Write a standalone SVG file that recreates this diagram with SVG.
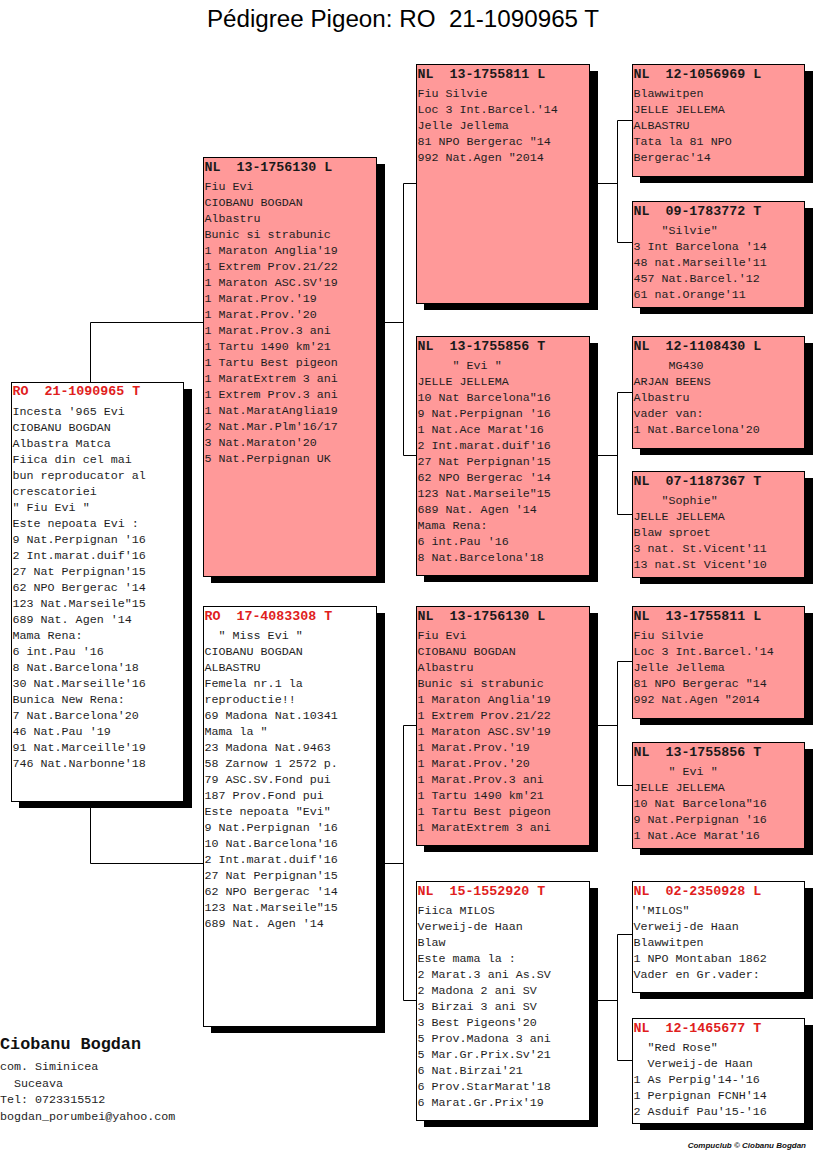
<svg xmlns="http://www.w3.org/2000/svg" width="816" height="1172" viewBox="0 0 816 1172" xml:space="preserve">
<style>
.sh{fill:#000}
.pk{fill:#ff9999;stroke:#000;stroke-width:1}
.wt{fill:#fff;stroke:#000;stroke-width:1}
.hd{font-family:"Liberation Mono",monospace;font-weight:bold;font-size:13.3px;white-space:pre}
.hr{fill:#e0201c}
.hb{fill:#1a1a1a}
.tx{font-family:"Liberation Mono",monospace;font-size:11.7px;fill:#1e1e1e;white-space:pre}
.ln{stroke:#000;stroke-width:1;fill:none}
.title{font-family:"Liberation Sans",Arial,sans-serif;font-size:24.2px;fill:#000;white-space:pre}
.ft{font-family:"Liberation Mono",monospace;font-size:11.7px;fill:#1e1e1e;white-space:pre}
.fb{font-family:"Liberation Mono",monospace;font-weight:bold;font-size:16.8px;fill:#111}
.cr{font-family:"Liberation Sans",Arial,sans-serif;font-weight:bold;font-style:italic;font-size:8px;fill:#111}
</style>
<rect width="816" height="1172" fill="#fff"/>
<text class="title" x="403" y="27" text-anchor="middle">Pédigree Pigeon: RO  21-1090965 T</text>

<g id="connectors">
<path class="ln" d="M90.5,322.5 V863.5 M90.5,322.5 H403.5 M90.5,863.5 H403.5"/>
<path class="ln" d="M403.5,183.5 V455.5 M403.5,183.5 H416 M403.5,455.5 H416"/>
<path class="ln" d="M403.5,725.5 V1000.5 M403.5,725.5 H416 M403.5,1000.5 H416"/>
<path class="ln" d="M589,183.5 H617.5 M617.5,120.5 V242.5 M617.5,120.5 H632 M617.5,242.5 H632"/>
<path class="ln" d="M589,455.5 H617.5 M617.5,392.5 V514.5 M617.5,392.5 H632 M617.5,514.5 H632"/>
<path class="ln" d="M589,725.5 H617.5 M617.5,661.5 V785.5 M617.5,661.5 H632 M617.5,785.5 H632"/>
<path class="ln" d="M589,1000.5 H617.5 M617.5,934.5 V1060.5 M617.5,934.5 H632 M617.5,1060.5 H632"/>
</g>

<g id="subject">
<rect class="sh" x="19" y="389" width="173" height="419"/>
<rect class="wt" x="11.5" y="382.5" width="172" height="419"/>
<text class="hd hr" x="12.5" y="395">RO  21-1090965 T</text>
<text class="tx"><tspan x="12.5" y="415">Incesta '965 Evi</tspan><tspan x="12.5" dy="16">CIOBANU BOGDAN</tspan><tspan x="12.5" dy="16">Albastra Matca</tspan><tspan x="12.5" dy="16">Fiica din cel mai</tspan><tspan x="12.5" dy="16">bun reproducator al</tspan><tspan x="12.5" dy="16">crescatoriei</tspan><tspan x="12.5" dy="16">" Fiu Evi "</tspan><tspan x="12.5" dy="16">Este nepoata Evi :</tspan><tspan x="12.5" dy="16">9 Nat.Perpignan '16</tspan><tspan x="12.5" dy="16">2 Int.marat.duif'16</tspan><tspan x="12.5" dy="16">27 Nat Perpignan'15</tspan><tspan x="12.5" dy="16">62 NPO Bergerac '14</tspan><tspan x="12.5" dy="16">123 Nat.Marseile"15</tspan><tspan x="12.5" dy="16">689 Nat. Agen '14</tspan><tspan x="12.5" dy="16">Mama Rena:</tspan><tspan x="12.5" dy="16">6 int.Pau '16</tspan><tspan x="12.5" dy="16">8 Nat.Barcelona'18</tspan><tspan x="12.5" dy="16">30 Nat.Marseille'16</tspan><tspan x="12.5" dy="16">Bunica New Rena:</tspan><tspan x="12.5" dy="16">7 Nat.Barcelona'20</tspan><tspan x="12.5" dy="16">46 Nat.Pau '19</tspan><tspan x="12.5" dy="16">91 Nat.Marceille'19</tspan><tspan x="12.5" dy="16">746 Nat.Narbonne'18</tspan></text>
</g>

<g id="sire">
<rect class="sh" x="211" y="164" width="174" height="419"/>
<rect class="pk" x="203.5" y="157.5" width="173" height="419"/>
<text class="hd hb" x="204.5" y="171">NL  13-1756130 L</text>
<text class="tx"><tspan x="204.5" y="190">Fiu Evi</tspan><tspan x="204.5" dy="16">CIOBANU BOGDAN</tspan><tspan x="204.5" dy="16">Albastru</tspan><tspan x="204.5" dy="16">Bunic si strabunic</tspan><tspan x="204.5" dy="16">1 Maraton Anglia'19</tspan><tspan x="204.5" dy="16">1 Extrem Prov.21/22</tspan><tspan x="204.5" dy="16">1 Maraton ASC.SV'19</tspan><tspan x="204.5" dy="16">1 Marat.Prov.'19</tspan><tspan x="204.5" dy="16">1 Marat.Prov.'20</tspan><tspan x="204.5" dy="16">1 Marat.Prov.3 ani</tspan><tspan x="204.5" dy="16">1 Tartu 1490 km'21</tspan><tspan x="204.5" dy="16">1 Tartu Best pigeon</tspan><tspan x="204.5" dy="16">1 MaratExtrem 3 ani</tspan><tspan x="204.5" dy="16">1 Extrem Prov.3 ani</tspan><tspan x="204.5" dy="16">1 Nat.MaratAnglia19</tspan><tspan x="204.5" dy="16">2 Nat.Mar.Plm'16/17</tspan><tspan x="204.5" dy="16">3 Nat.Maraton'20</tspan><tspan x="204.5" dy="16">5 Nat.Perpignan UK</tspan></text>
</g>

<g id="dam">
<rect class="sh" x="211" y="613" width="174" height="420"/>
<rect class="wt" x="203.5" y="606.5" width="173" height="420"/>
<text class="hd hr" x="204.5" y="620">RO  17-4083308 T</text>
<text class="tx"><tspan x="204.5" y="639">  " Miss Evi "</tspan><tspan x="204.5" dy="16">CIOBANU BOGDAN</tspan><tspan x="204.5" dy="16">ALBASTRU</tspan><tspan x="204.5" dy="16">Femela nr.1 la</tspan><tspan x="204.5" dy="16">reproductie!!</tspan><tspan x="204.5" dy="16">69 Madona Nat.10341</tspan><tspan x="204.5" dy="16">Mama la "</tspan><tspan x="204.5" dy="16">23 Madona Nat.9463</tspan><tspan x="204.5" dy="16">58 Zarnow 1 2572 p.</tspan><tspan x="204.5" dy="16">79 ASC.SV.Fond pui</tspan><tspan x="204.5" dy="16">187 Prov.Fond pui</tspan><tspan x="204.5" dy="16">Este nepoata "Evi"</tspan><tspan x="204.5" dy="16">9 Nat.Perpignan '16</tspan><tspan x="204.5" dy="16">10 Nat.Barcelona'16</tspan><tspan x="204.5" dy="16">2 Int.marat.duif'16</tspan><tspan x="204.5" dy="16">27 Nat Perpignan'15</tspan><tspan x="204.5" dy="16">62 NPO Bergerac '14</tspan><tspan x="204.5" dy="16">123 Nat.Marseile"15</tspan><tspan x="204.5" dy="16">689 Nat. Agen '14</tspan></text>
</g>

<g id="ss">
<rect class="sh" x="424" y="71" width="174" height="239"/>
<rect class="pk" x="416.5" y="64.5" width="173" height="239"/>
<text class="hd hb" x="417.5" y="78">NL  13-1755811 L</text>
<text class="tx"><tspan x="417.5" y="97">Fiu Silvie</tspan><tspan x="417.5" dy="16">Loc 3 Int.Barcel.'14</tspan><tspan x="417.5" dy="16">Jelle Jellema</tspan><tspan x="417.5" dy="16">81 NPO Bergerac "14</tspan><tspan x="417.5" dy="16">992 Nat.Agen "2014</tspan></text>
</g>

<g id="sd">
<rect class="sh" x="424" y="343" width="174" height="239"/>
<rect class="pk" x="416.5" y="336.5" width="173" height="239"/>
<text class="hd hb" x="417.5" y="350">NL  13-1755856 T</text>
<text class="tx"><tspan x="417.5" y="369">     " Evi "</tspan><tspan x="417.5" dy="16">JELLE JELLEMA</tspan><tspan x="417.5" dy="16">10 Nat Barcelona"16</tspan><tspan x="417.5" dy="16">9 Nat.Perpignan '16</tspan><tspan x="417.5" dy="16">1 Nat.Ace Marat'16</tspan><tspan x="417.5" dy="16">2 Int.marat.duif'16</tspan><tspan x="417.5" dy="16">27 Nat Perpignan'15</tspan><tspan x="417.5" dy="16">62 NPO Bergerac '14</tspan><tspan x="417.5" dy="16">123 Nat.Marseile"15</tspan><tspan x="417.5" dy="16">689 Nat. Agen '14</tspan><tspan x="417.5" dy="16">Mama Rena:</tspan><tspan x="417.5" dy="16">6 int.Pau '16</tspan><tspan x="417.5" dy="16">8 Nat.Barcelona'18</tspan></text>
</g>

<g id="ds">
<rect class="sh" x="424" y="613" width="174" height="239"/>
<rect class="pk" x="416.5" y="606.5" width="173" height="239"/>
<text class="hd hb" x="417.5" y="620">NL  13-1756130 L</text>
<text class="tx"><tspan x="417.5" y="639">Fiu Evi</tspan><tspan x="417.5" dy="16">CIOBANU BOGDAN</tspan><tspan x="417.5" dy="16">Albastru</tspan><tspan x="417.5" dy="16">Bunic si strabunic</tspan><tspan x="417.5" dy="16">1 Maraton Anglia'19</tspan><tspan x="417.5" dy="16">1 Extrem Prov.21/22</tspan><tspan x="417.5" dy="16">1 Maraton ASC.SV'19</tspan><tspan x="417.5" dy="16">1 Marat.Prov.'19</tspan><tspan x="417.5" dy="16">1 Marat.Prov.'20</tspan><tspan x="417.5" dy="16">1 Marat.Prov.3 ani</tspan><tspan x="417.5" dy="16">1 Tartu 1490 km'21</tspan><tspan x="417.5" dy="16">1 Tartu Best pigeon</tspan><tspan x="417.5" dy="16">1 MaratExtrem 3 ani</tspan></text>
</g>

<g id="dd">
<rect class="sh" x="424" y="888" width="174" height="239"/>
<rect class="wt" x="416.5" y="881.5" width="173" height="239"/>
<text class="hd hr" x="417.5" y="895">NL  15-1552920 T</text>
<text class="tx"><tspan x="417.5" y="914">Fiica MILOS</tspan><tspan x="417.5" dy="16">Verweij-de Haan</tspan><tspan x="417.5" dy="16">Blaw</tspan><tspan x="417.5" dy="16">Este mama la :</tspan><tspan x="417.5" dy="16">2 Marat.3 ani As.SV</tspan><tspan x="417.5" dy="16">2 Madona 2 ani SV</tspan><tspan x="417.5" dy="16">3 Birzai 3 ani SV</tspan><tspan x="417.5" dy="16">3 Best Pigeons'20</tspan><tspan x="417.5" dy="16">5 Prov.Madona 3 ani</tspan><tspan x="417.5" dy="16">5 Mar.Gr.Prix.Sv'21</tspan><tspan x="417.5" dy="16">6 Nat.Birzai'21</tspan><tspan x="417.5" dy="16">6 Prov.StarMarat'18</tspan><tspan x="417.5" dy="16">6 Marat.Gr.Prix'19</tspan></text>
</g>

<g id="sss">
<rect class="sh" x="640" y="71" width="173" height="112"/>
<rect class="pk" x="632.5" y="64.5" width="172" height="112"/>
<text class="hd hb" x="633.5" y="78">NL  12-1056969 L</text>
<text class="tx"><tspan x="633.5" y="97">Blawwitpen</tspan><tspan x="633.5" dy="16">JELLE JELLEMA</tspan><tspan x="633.5" dy="16">ALBASTRU</tspan><tspan x="633.5" dy="16">Tata la 81 NPO</tspan><tspan x="633.5" dy="16">Bergerac'14</tspan></text>
</g>

<g id="ssd">
<rect class="sh" x="640" y="208" width="173" height="106"/>
<rect class="pk" x="632.5" y="201.5" width="172" height="106"/>
<text class="hd hb" x="633.5" y="215">NL  09-1783772 T</text>
<text class="tx"><tspan x="633.5" y="234">    "Silvie"</tspan><tspan x="633.5" dy="16">3 Int Barcelona '14</tspan><tspan x="633.5" dy="16">48 nat.Marseille'11</tspan><tspan x="633.5" dy="16">457 Nat.Barcel.'12</tspan><tspan x="633.5" dy="16">61 nat.Orange'11</tspan></text>
</g>

<g id="sds">
<rect class="sh" x="640" y="343" width="173" height="112"/>
<rect class="pk" x="632.5" y="336.5" width="172" height="112"/>
<text class="hd hb" x="633.5" y="350">NL  12-1108430 L</text>
<text class="tx"><tspan x="633.5" y="369">     MG430</tspan><tspan x="633.5" dy="16">ARJAN BEENS</tspan><tspan x="633.5" dy="16">Albastru</tspan><tspan x="633.5" dy="16">vader van:</tspan><tspan x="633.5" dy="16">1 Nat.Barcelona'20</tspan></text>
</g>

<g id="sdd">
<rect class="sh" x="640" y="478" width="173" height="106"/>
<rect class="pk" x="632.5" y="471.5" width="172" height="106"/>
<text class="hd hb" x="633.5" y="485">NL  07-1187367 T</text>
<text class="tx"><tspan x="633.5" y="504">    "Sophie"</tspan><tspan x="633.5" dy="16">JELLE JELLEMA</tspan><tspan x="633.5" dy="16">Blaw sproet</tspan><tspan x="633.5" dy="16">3 nat. St.Vicent'11</tspan><tspan x="633.5" dy="16">13 nat.St Vicent'10</tspan></text>
</g>

<g id="dss">
<rect class="sh" x="640" y="613" width="173" height="112"/>
<rect class="pk" x="632.5" y="606.5" width="172" height="112"/>
<text class="hd hb" x="633.5" y="620">NL  13-1755811 L</text>
<text class="tx"><tspan x="633.5" y="639">Fiu Silvie</tspan><tspan x="633.5" dy="16">Loc 3 Int.Barcel.'14</tspan><tspan x="633.5" dy="16">Jelle Jellema</tspan><tspan x="633.5" dy="16">81 NPO Bergerac "14</tspan><tspan x="633.5" dy="16">992 Nat.Agen "2014</tspan></text>
</g>

<g id="dsd">
<rect class="sh" x="640" y="749" width="173" height="106"/>
<rect class="pk" x="632.5" y="742.5" width="172" height="106"/>
<text class="hd hb" x="633.5" y="756">NL  13-1755856 T</text>
<text class="tx"><tspan x="633.5" y="775">     " Evi "</tspan><tspan x="633.5" dy="16">JELLE JELLEMA</tspan><tspan x="633.5" dy="16">10 Nat Barcelona"16</tspan><tspan x="633.5" dy="16">9 Nat.Perpignan '16</tspan><tspan x="633.5" dy="16">1 Nat.Ace Marat'16</tspan></text>
</g>

<g id="dds">
<rect class="sh" x="640" y="888" width="173" height="111"/>
<rect class="wt" x="632.5" y="881.5" width="172" height="111"/>
<text class="hd hr" x="633.5" y="895">NL  02-2350928 L</text>
<text class="tx"><tspan x="633.5" y="914">''MILOS"</tspan><tspan x="633.5" dy="16">Verweij-de Haan</tspan><tspan x="633.5" dy="16">Blawwitpen</tspan><tspan x="633.5" dy="16">1 NPO Montaban 1862</tspan><tspan x="633.5" dy="16">Vader en Gr.vader:</tspan></text>
</g>

<g id="ddd">
<rect class="sh" x="640" y="1025" width="173" height="105"/>
<rect class="wt" x="632.5" y="1018.5" width="172" height="105"/>
<text class="hd hr" x="633.5" y="1032">NL  12-1465677 T</text>
<text class="tx"><tspan x="633.5" y="1051">  "Red Rose"</tspan><tspan x="633.5" dy="16">  Verweij-de Haan</tspan><tspan x="633.5" dy="16">1 As Perpig'14-'16</tspan><tspan x="633.5" dy="16">1 Perpignan FCNH'14</tspan><tspan x="633.5" dy="16">2 Asduif Pau'15-'16</tspan></text>
</g>

<g id="breeder">
<text class="fb" x="0" y="1049">Ciobanu Bogdan</text>
<text class="ft"><tspan x="0" y="1070">com. Siminicea</tspan><tspan x="0" dy="16.5">  Suceava</tspan><tspan x="0" dy="16.5">Tel: 0723315512</tspan><tspan x="0" dy="16.5">bogdan_porumbei@yahoo.com</tspan></text>
</g>
<text class="cr" x="806" y="1148" text-anchor="end">Compuclub © Ciobanu Bogdan</text>
</svg>
